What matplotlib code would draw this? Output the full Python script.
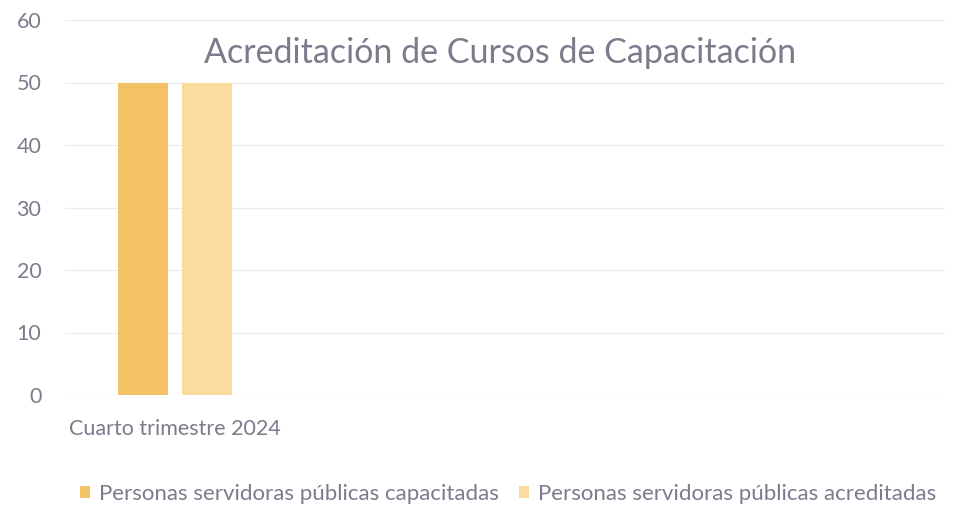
import numpy as np
import matplotlib
matplotlib.use("Agg")
from matplotlib import pyplot as plt

categories = ["Cuarto trimestre 2024", "", "", ""]
capacitadas = [50, 0, 0, 0]
acreditadas = [50, 0, 0, 0]
series_names = ["Personas servidoras públicas capacitadas",
                "Personas servidoras públicas acreditadas"]
y_ticks = [0, 10, 20, 30, 40, 50, 60]

text_color = "#7b7b8c"
plt.rcParams["font.family"] = ["Lato", "DejaVu Sans"]

fig = plt.figure(figsize=(9.74, 5.29), dpi=100)
ax = fig.add_axes([65 / 974, 1 - 395 / 529, 880 / 974, 375 / 529])

x = np.arange(len(categories))
w = 0.225
gap = 0.065
ax.bar(x - (w + gap) / 2, capacitadas, w, color="#f4c265", label=series_names[0])
ax.bar(x + (w + gap) / 2, acreditadas, w, color="#fbdc9e", label=series_names[1])

ax.set_xlim(-0.5, len(categories) - 0.5)
ax.set_ylim(0, 60)
ax.set_yticks(y_ticks)
ax.set_xticks(x)
ax.set_xticklabels(categories)
ax.tick_params(axis="y", length=0, pad=17, labelsize=15.5, labelcolor=text_color)
ax.tick_params(axis="x", length=0, pad=17, labelsize=15.5, labelcolor=text_color)
ax.grid(axis="y", color="#ececec", linewidth=0.8)
ax.set_axisbelow(True)
for s in ax.spines.values():
    s.set_visible(False)

fig.text(0.513, 0.9, "Acreditación de Cursos de Capacitación", ha="center", va="center",
         fontsize=24.5, color=text_color)

fig.legend(loc="center", bbox_to_anchor=(0.522, 1 - 494 / 529), ncol=2, frameon=False,
           fontsize=16, labelcolor=text_color, handlelength=0.45, handleheight=0.45,
           handletextpad=0.4, columnspacing=0.9)

fig.savefig("out.png", dpi=100)
